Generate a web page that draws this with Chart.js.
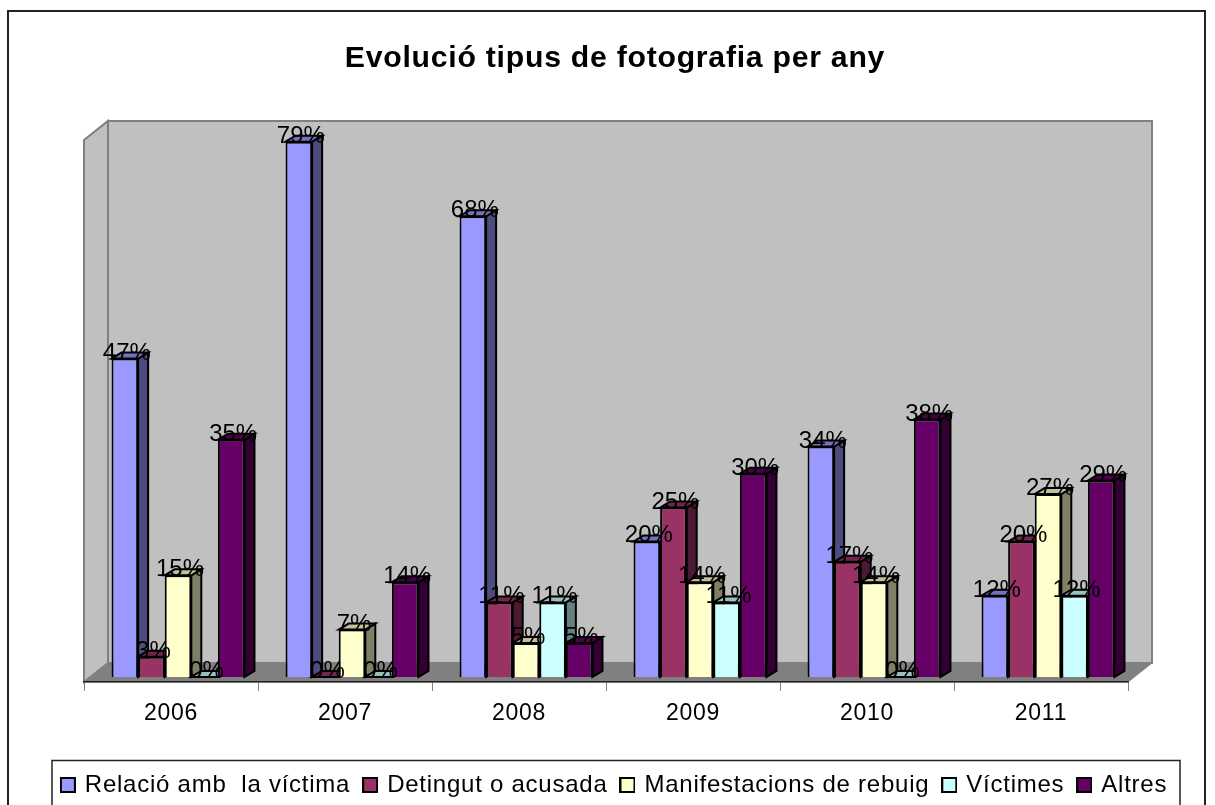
<!DOCTYPE html>
<html><head><meta charset="utf-8">
<style>html,body{margin:0;padding:0;background:#fff;overflow:hidden}canvas{display:block}</style>
<script src="https://cdn.jsdelivr.net/npm/chart.js@4"></script></head>
<body><canvas id="c" width="1215" height="805"></canvas>
<script>
const categories=['2006','2007','2008','2009','2010','2011'];
const titleText='Evolució tipus de fotografia per any';
const seriesNames=['Relació amb  la víctima','Detingut o acusada','Manifestacions de rebuig','Víctimes','Altres'];
const relacio=[47,79,68,20,34,12];
const detingut=[3,0,11,25,17,20];
const manifestacions=[15,7,5,14,14,27];
const victimes=[0,0,11,11,0,12];
const altres=[35,14,5,30,38,29];
const seriesColors=['#9999FF','#993366','#FFFFCC','#CCFFFF','#660066'];
const seriesValues=[relacio,detingut,manifestacions,victimes,altres];
const FONT='"Liberation Sans",Arial,sans-serif';
const SPACING='0.75px';
const WALL={dx:24,dy:19},BAR={dx:10,dy:6},SHIFT={x:7,y:-5};
function shade(hex,f){const n=parseInt(hex.slice(1),16);
 return `rgb(${(n>>16&255)*f|0},${(n>>8&255)*f|0},${(n&255)*f|0})`;}
function poly(ctx,pts,fill,stroke,lw){ctx.beginPath();pts.forEach((p,i)=>i?ctx.lineTo(p[0],p[1]):ctx.moveTo(p[0],p[1]));ctx.closePath();
 if(fill){ctx.fillStyle=fill;ctx.fill();}if(stroke){ctx.strokeStyle=stroke;ctx.lineWidth=lw;ctx.stroke();}}
function swatch(col){const s=document.createElement('canvas');s.width=16;s.height=16;const g=s.getContext('2d');
 g.fillStyle=col;g.fillRect(0,0,16,16);g.strokeStyle='#000';g.lineWidth=2;g.strokeRect(1,1,14,14);return s;}
const scene={id:'scene',
 beforeLayout(c){c.ctx.letterSpacing=SPACING;},
 beforeDraw(c){const g=c.ctx,a=c.chartArea;g.save();
  g.fillStyle='#fff';g.fillRect(0,0,c.width,c.height);
  g.strokeStyle='#222';g.lineWidth=2;g.strokeRect(8,11,1197,820);
  g.strokeStyle='#222';g.lineWidth=1.5;g.strokeRect(52,760.5,1128,80);
  const L=a.left,R=a.right,T=a.top,B=a.bottom,dx=WALL.dx,dy=WALL.dy;
  poly(g,[[L+dx,T-dy],[R+dx,T-dy],[R+dx,B-dy],[L+dx,B-dy]],'#C0C0C0','#808080',2);
  poly(g,[[L,T],[L+dx,T-dy],[L+dx,B-dy],[L,B]],'#C0C0C0','#808080',2);
  poly(g,[[L,B],[L+dx,B-dy],[R+dx,B-dy],[R,B]],'#808080','#808080',1);
  g.restore();},
 beforeDatasetsDraw(c){const g=c.ctx;g.save();g.translate(SHIFT.x,SHIFT.y);
  c.data.datasets.forEach((d,i)=>{const col=seriesColors[i];
   c.getDatasetMeta(i).data.forEach(el=>{const x0=el.x-el.width/2,x1=el.x+el.width/2,y=el.y,b=el.base;
    poly(g,[[x1,y],[x1+BAR.dx,y-BAR.dy],[x1+BAR.dx,b-BAR.dy],[x1,b]],shade(col,.5),'#000',2);
    poly(g,[[x0,y],[x0+BAR.dx,y-BAR.dy],[x1+BAR.dx,y-BAR.dy],[x1,y]],shade(col,.75),'#000',2);});});},
 afterDatasetsDraw(c){const g=c.ctx;g.letterSpacing='0px';g.fillStyle='#000';g.font='24px '+FONT;g.textAlign='center';g.textBaseline='alphabetic';
  c.data.datasets.forEach((d,i)=>c.getDatasetMeta(i).data.forEach((el,j)=>g.fillText(d.data[j]+'%',el.x+2,el.y+1)));
  g.restore();g.letterSpacing=SPACING;}
};
new Chart(document.getElementById('c'),{type:'bar',plugins:[scene],
 data:{labels:categories,datasets:seriesNames.map((n,i)=>({label:n,data:seriesValues[i],backgroundColor:seriesColors[i],borderColor:'#000',borderWidth:2,barPercentage:1,categoryPercentage:0.764}))},
 options:{responsive:false,animation:false,devicePixelRatio:1,
  layout:{padding:{left:15,right:0,top:0,bottom:-2}},
  plugins:{tooltip:{enabled:false},
   title:{display:true,text:titleText,color:'#000',font:{family:FONT,size:30.2,weight:'bold',lineHeight:1.2},padding:{top:40.7,bottom:63}},
   legend:{position:'bottom',labels:{font:{family:FONT,size:24},color:'#000',usePointStyle:true,boxWidth:10,boxHeight:16,padding:15,
     generateLabels(ch){return seriesNames.map((n,i)=>({text:n,datasetIndex:i,fontColor:'#000',hidden:false,pointStyle:swatch(seriesColors[i])}));}}}},
  scales:{
   x:{grid:{display:true,drawOnChartArea:false,drawTicks:true,tickLength:9,color:'#808080',offset:true},border:{display:true,color:'#222',width:1.5},
      ticks:{color:'#000',font:{family:FONT,size:23},padding:9,maxRotation:0},afterFit(s){s.height=76;}},
   y:{display:true,min:0,max:80,grid:{display:false},border:{display:false},ticks:{display:false},afterFit(s){s.width=69;}},
   yRight:{type:'linear',position:'right',display:true,grid:{display:false},border:{display:false},ticks:{display:false},afterFit(s){s.width=87;}}
  }}});
</script></body></html>
